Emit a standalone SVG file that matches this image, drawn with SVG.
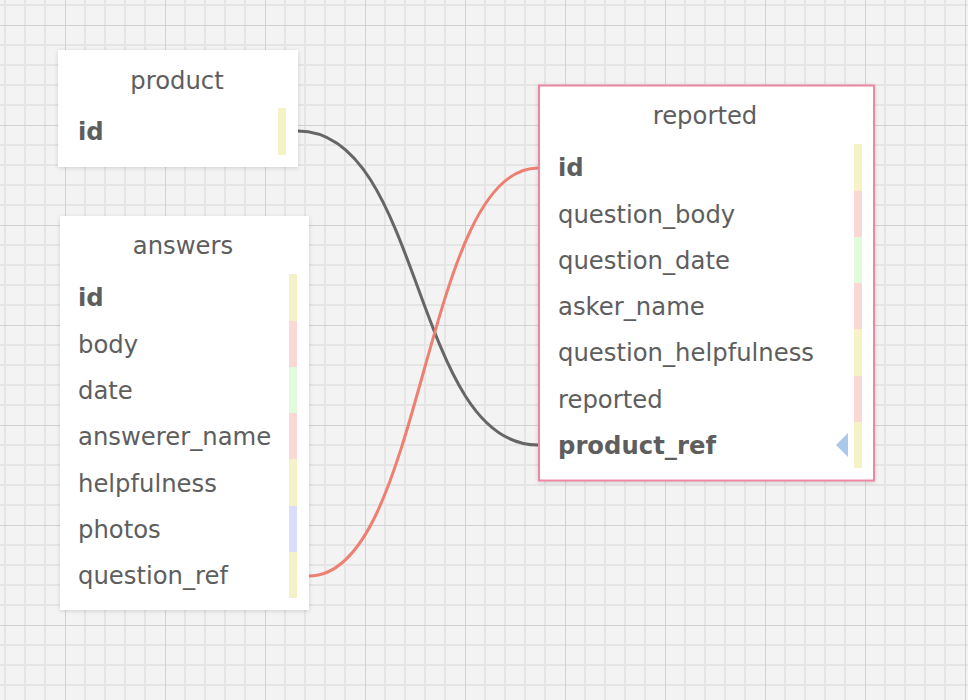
<svg xmlns="http://www.w3.org/2000/svg" width="968" height="700" viewBox="0 0 968 700">
<defs>
<pattern id="grid" patternUnits="userSpaceOnUse" x="65" y="25" width="100" height="100">
<rect width="100" height="100" fill="#f3f3f3"/>
<g stroke="#e5e5e5" stroke-width="2">
<line x1="20" y1="0" x2="20" y2="100"/><line x1="40" y1="0" x2="40" y2="100"/><line x1="60" y1="0" x2="60" y2="100"/><line x1="80" y1="0" x2="80" y2="100"/>
<line x1="0" y1="20" x2="100" y2="20"/><line x1="0" y1="40" x2="100" y2="40"/><line x1="0" y1="60" x2="100" y2="60"/><line x1="0" y1="80" x2="100" y2="80"/>
</g>
<g stroke="#d2d2d2" stroke-width="2">
<line x1="0" y1="0" x2="0" y2="100"/><line x1="0" y1="0" x2="100" y2="0"/>
</g>
</pattern>
<filter id="sh" x="-10%" y="-10%" width="120%" height="120%">
<feDropShadow dx="0" dy="1" stdDeviation="2" flood-color="#000" flood-opacity="0.15"/>
</filter>
<style>
.box{fill:#ffffff;filter:url(#sh);}
.title{font-family:"DejaVu Sans",sans-serif;font-size:24.3px;fill:#5e5e5e;text-anchor:middle;}
.f{font-family:"DejaVu Sans",sans-serif;font-size:24.3px;fill:#5e5e5e;}
.b{font-weight:bold;}
.y{fill:#f5f2c8;}
.p{fill:#fad8d6;}
.g{fill:#e1fcdb;}
.v{fill:#dcdcfc;}
.conn{fill:none;stroke-width:3;}
</style>
</defs>
<rect width="968" height="700" fill="url(#grid)"/>
<g id="connectors">
<path class="conn" stroke="#666666" d="M298,131 C423,131 413,445 538,445"/>
<path class="conn" stroke="#ed8072" d="M309,576 C424,576 423,168 538,168"/>
</g>
<g id="product">
<rect class="box" x="58" y="50" width="240" height="117"/>
<text class="title" x="177" y="89">product</text>
<text class="f b" x="78" y="140">id</text>
<rect class="y" x="278" y="108" width="8" height="47"/>
</g>
<g id="answers">
<rect class="box" x="60" y="216" width="249" height="394"/>
<text class="title" x="183" y="254">answers</text>
<text class="f b" x="78" y="306">id</text>
<text class="f" x="78" y="352.5">body</text>
<text class="f" x="78" y="398.5">date</text>
<text class="f" x="78" y="445">answerer_name</text>
<text class="f" x="78" y="491.5">helpfulness</text>
<text class="f" x="78" y="538">photos</text>
<text class="f" x="78" y="584">question_ref</text>
<rect class="y" x="289" y="274" width="8" height="47"/>
<rect class="p" x="289" y="321" width="8" height="46"/>
<rect class="g" x="289" y="367" width="8" height="46"/>
<rect class="p" x="289" y="413" width="8" height="46"/>
<rect class="y" x="289" y="459" width="8" height="47"/>
<rect class="v" x="289" y="506" width="8" height="46"/>
<rect class="y" x="289" y="552" width="8" height="46"/>
</g>
<g id="reported">
<rect class="box" x="539" y="85.5" width="335" height="395" stroke="#ee86a2" stroke-width="2"/>
<text class="title" x="705" y="123.5">reported</text>
<text class="f b" x="558" y="176">id</text>
<text class="f" x="558" y="222.5">question_body</text>
<text class="f" x="558" y="268.5">question_date</text>
<text class="f" x="558" y="315">asker_name</text>
<text class="f" x="558" y="361">question_helpfulness</text>
<text class="f" x="558" y="407.5">reported</text>
<text class="f b" x="558" y="454">product_ref</text>
<rect class="y" x="854" y="144" width="8" height="47"/>
<rect class="p" x="854" y="191" width="8" height="46"/>
<rect class="g" x="854" y="237" width="8" height="46"/>
<rect class="p" x="854" y="283" width="8" height="46"/>
<rect class="y" x="854" y="329" width="8" height="47"/>
<rect class="p" x="854" y="376" width="8" height="46"/>
<rect class="y" x="854" y="422" width="8" height="46"/>
<polygon points="848,433 836,445 848,457" fill="#a9c8ea"/>
</g>
</svg>
